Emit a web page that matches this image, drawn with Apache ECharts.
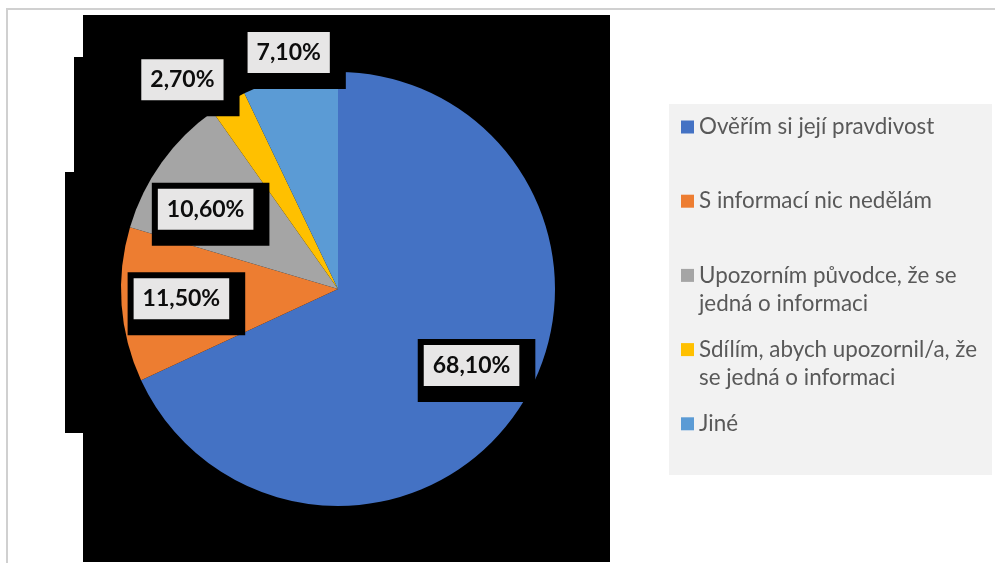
<!DOCTYPE html>
<html>
<head>
<meta charset="utf-8">
<script src="https://cdn.jsdelivr.net/npm/echarts@6/dist/echarts.min.js"></script>
<style>
  html, body { margin: 0; padding: 0; background: #ffffff; }
  #chart { width: 995px; height: 563px; }
</style>
</head>
<body>
<div id="chart"></div>
<script>
// Survey answers: what respondents do with a piece of information
const categories = [
  'Ověřím si její pravdivost',
  'S informací nic nedělám',
  'Upozorním původce, že se\njedná o informaci',
  'Sdílím, abych upozornil/a, že\nse jedná o informaci',
  'Jiné'
];
const values = [68.1, 11.5, 10.6, 2.7, 7.1];
const colors = ['#4472c4', '#ed7d31', '#a5a5a5', '#ffc000', '#5b9bd5'];

// Where each value label sits: distance from the centre (share of radius)
// and a small turn (degrees) away from the slice's middle angle.
const labelRadius = [0.709, 0.723, 0.712, 1.202, 1.113];
const labelTurn = [-2.8, 0.6, -4.6, -6.2, 1.0];

const CX = 338, CY = 289, R = 217;
const LEGEND_LINE = 28;
// black frame around each value label: thin on top/left, thick on right/bottom
const FRAME_THIN = 6, FRAME_THICK = 16;

const chart = echarts.init(document.getElementById('chart'), null, { renderer: 'canvas' });

const total = values.reduce((a, b) => a + b, 0);

function labelPosition(i) {
  let before = 0;
  for (let k = 0; k < i; k++) before += values[k];
  const deg = (before + values[i] / 2) / total * 360 + labelTurn[i];
  const rad = deg * Math.PI / 180;
  const d = R * labelRadius[i];
  // shift so the grey face (not the whole black frame) is centred on the spot
  const shift = (FRAME_THICK - FRAME_THIN) / 2;
  return { x: CX + d * Math.sin(rad) + shift, y: CY - d * Math.cos(rad) + shift };
}

// Legend entries: the first line of every entry is centred on its colour key,
// and all entries take three lines of height so they are evenly spaced.
function legendText(name) {
  return name.indexOf('\n') >= 0 ? '\n' + name : '\n' + name + '\n';
}

const option = {
  animation: false,
  color: colors,
  graphic: [
    {
      // chart frame
      type: 'rect', z: 0, silent: true,
      shape: { x: 7, y: 9, width: 1000, height: 600 },
      style: { fill: '#ffffff', stroke: '#d0d0d0', lineWidth: 2 }
    },
    {
      // dark plot backdrop
      type: 'polygon', z: 1, silent: true,
      shape: { points: [[83, 15], [610, 15], [610, 562], [83, 562], [83, 433], [65, 433], [65, 172], [74, 172], [74, 57], [83, 57]] },
      style: { fill: '#000000' }
    },
    {
      // legend panel
      type: 'rect', z: 1, silent: true,
      shape: { x: 669, y: 104, width: 323, height: 371 },
      style: { fill: '#f2f2f2' }
    }
  ],
  legend: {
    orient: 'vertical',
    left: 681,
    top: 85,
    padding: 0,
    itemGap: -9.8,
    itemWidth: 13,
    itemHeight: 13,
    icon: 'rect',
    selectedMode: false,
    z: 5,
    formatter: legendText,
    textStyle: {
      fontFamily: 'Lato',
      fontSize: 22.4,
      color: '#595959',
      lineHeight: LEGEND_LINE,
      backgroundColor: 'rgba(0,0,0,0)'
    },
    data: categories
  },
  series: [
    {
      type: 'pie',
      z: 3,
      center: [CX, CY],
      radius: R,
      startAngle: 90,
      clockwise: true,
      silent: true,
      avoidLabelOverlap: false,
      itemStyle: { borderWidth: 0 },
      labelLine: { show: false },
      label: {
        show: true,
        position: 'inside',
        formatter: p => '{v|' + p.value.toFixed(2).replace('.', ',') + '%}',
        backgroundColor: '#000000',
        padding: [FRAME_THIN, FRAME_THICK, FRAME_THICK, FRAME_THIN],
        rich: {
          v: {
            fontFamily: 'Lato',
            fontWeight: 'bold',
            fontSize: 23,
            color: '#0d0d0d',
            backgroundColor: '#e7e6e6',
            padding: [9, 9, 9, 9]
          }
        }
      },
      labelLayout: function (params) {
        const pos = labelPosition(params.dataIndex);
        return { x: pos.x, y: pos.y, align: 'center', verticalAlign: 'middle' };
      },
      data: categories.map((name, i) => ({ name: name, value: values[i] }))
    }
  ]
};

chart.setOption(option);
</script>
</body>
</html>
